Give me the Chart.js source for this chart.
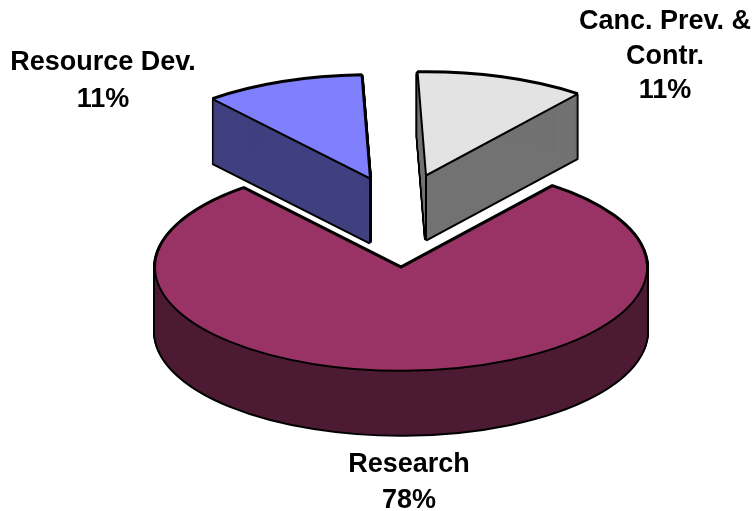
<!DOCTYPE html>
<html>
<head>
<meta charset="utf-8">
<script src="https://cdn.jsdelivr.net/npm/chart.js@4"></script>
<style>
  html, body { margin: 0; padding: 0; background: #fff; }
  canvas { display: block; }
</style>
</head>
<body>
<canvas id="grafico" width="756" height="511"></canvas>
<script>
const categorias = ["Research", "Resource Dev.", "Canc. Prev. & Contr."];
const valores = [78.4, 10.5, 11.1];
const linhasRotulo = [["Research"], ["Resource Dev."], ["Canc. Prev. &", "Contr."]];
const percentuais = ["78%", "11%", "11%"];

const coresTopo = ["#993366", "#8080ff", "#e3e3e3"];
const coresLado = ["#4d1a33", "#404080", "#727272"];

// fake 3D: the pie is squashed and redrawn down the depth
const pizza3d = {
  id: "pizza3d",
  beforeDatasetsDraw(chart, args, opts) {
    const ctx = chart.ctx;
    const arcos = chart.getDatasetMeta(0).data;
    const base = ctx.getTransform();
    const strokeOriginal = ctx.stroke;
    // outline keeps its width, only the path gets squashed
    ctx.stroke = function () {
      ctx.save();
      ctx.setTransform(base);
      strokeOriginal.call(ctx);
      ctx.restore();
    };

    const desenhar = (arco, desl, fundo, borda, larg, dy) => {
      const original = arco.options;
      arco.options = Object.assign({}, original, {
        backgroundColor: fundo, borderColor: borda, borderWidth: larg
      });
      ctx.save();
      ctx.translate(desl.x, desl.y + dy);
      ctx.translate(arco.x, arco.y);
      ctx.scale(1, opts.achatar);
      ctx.translate(-arco.x, -arco.y);
      arco.draw(ctx);
      ctx.restore();
      arco.options = original;
    };

    // back slices first, the big one last
    [1, 2, 0].forEach(i => {
      const arco = arcos[i];
      const desl = opts.explosao[i];
      // the fill copies cover the inner half of this stroke
      for (let dy = 0; dy <= opts.altura; dy += 1) {
        desenhar(arco, desl, "#000", "#000", opts.traco * 2, dy);
      }
      for (let dy = 0; dy <= opts.altura; dy += 1) {
        desenhar(arco, desl, coresLado[i], coresLado[i], 0, dy);
      }
      if (i !== 0) {
        ctx.beginPath();
        ctx.moveTo(arco.x + desl.x, arco.y + desl.y);
        ctx.lineTo(arco.x + desl.x, arco.y + desl.y + opts.altura);
        ctx.strokeStyle = "#000";
        ctx.lineWidth = opts.traco;
        ctx.stroke();
      }
      desenhar(arco, desl, coresTopo[i], "#000", opts.traco, 0);
    });

    ctx.stroke = strokeOriginal;

    ctx.fillStyle = "#000";
    ctx.font = "bold 27px 'Liberation Sans'";
    ctx.textAlign = "center";
    ctx.textBaseline = "middle";
    categorias.forEach((c, i) => {
      const pos = opts.rotulos[i];
      linhasRotulo[i].concat(percentuais[i]).forEach((linha, n) => {
        ctx.fillText(linha, pos.x, pos.y + n * pos.entrelinha);
      });
    });
    return false;
  }
};

new Chart(document.getElementById("grafico"), {
  type: "pie",
  data: {
    labels: categorias,
    datasets: [{ data: valores, backgroundColor: coresTopo, borderColor: "#000", borderWidth: 1 }]
  },
  options: {
    responsive: false,
    animation: false,
    rotation: 38,
    radius: 246,
    layout: { padding: { left: 46, top: 24 } },
    plugins: {
      legend: { display: false },
      tooltip: { enabled: false },
      pizza3d: {
        achatar: 0.42,
        altura: 64,
        traco: 2,
        explosao: [{ x: 0, y: 0 }, { x: -31, y: -89 }, { x: 25, y: -92 }],
        rotulos: [
          { x: 409, y: 464.5, entrelinha: 36 },
          { x: 103, y: 62.5, entrelinha: 37 },
          { x: 665, y: 22, entrelinha: 34.5 }
        ]
      }
    }
  },
  plugins: [pizza3d]
});
</script>
</body>
</html>
